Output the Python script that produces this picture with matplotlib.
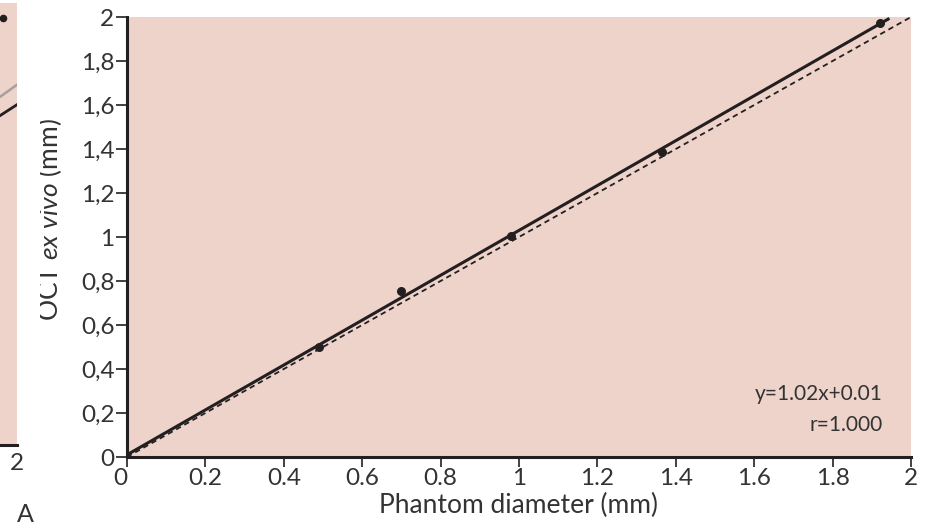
import matplotlib
matplotlib.use("Agg")
import matplotlib.pyplot as plt
import numpy as np
from matplotlib.patches import Rectangle

# ---- data ----
phantom = [0.49, 0.70, 0.98, 1.365, 1.92]
oct_exvivo = [0.50, 0.755, 1.005, 1.385, 1.975]
fit_slope, fit_icept = 1.02, 0.01
fit_x = [0.0, 1.945]
ident_x = [0.0, 2.0]
xticks = [0, 0.2, 0.4, 0.6, 0.8, 1, 1.2, 1.4, 1.6, 1.8, 2]
xticklabels = ["0", "0.2", "0.4", "0.6", "0.8", "1", "1.2", "1.4", "1.6", "1.8", "2"]
yticks = [0, 0.2, 0.4, 0.6, 0.8, 1, 1.2, 1.4, 1.6, 1.8, 2]
yticklabels = ["0", "0,2", "0,4", "0,6", "0,8", "1", "1,2", "1,4", "1,6", "1,8", "2"]
eq_text = "y=1.02x+0.01"
r_text = "r=1.000"

# partial neighbouring panel (only its right edge is visible)
left_x = [1.9, 2.0]
left_dark_y = [1.49, 1.54]
left_gray_y = [1.575, 1.63]
left_pt_x = [1.918]
left_pt_y = [1.93]

BG = "#edd3ca"
INK = "#231f20"
TXT = "#333333"

plt.rcParams['font.family'] = ['Lato', 'DejaVu Sans']
plt.rcParams['mathtext.fontset'] = 'custom'
plt.rcParams['mathtext.rm'] = 'Lato'
plt.rcParams['mathtext.it'] = 'Lato:italic'

W, H = 928, 527
fig = plt.figure(figsize=(W / 100, H / 100), dpi=100)

def fx(px):
    return px / W

def fy(py):
    return 1 - py / H

# main axes
ax = fig.add_axes([fx(127), fy(457), fx(911 - 127), (457 - 17) / H])
ax.set_facecolor(BG)
ax.set_xlim(0, 2)
ax.set_ylim(0, 2)
for s in ["top", "right"]:
    ax.spines[s].set_visible(False)
for s in ["left", "bottom"]:
    ax.spines[s].set_linewidth(2.2)
    ax.spines[s].set_color(INK)

xs = np.array(fit_x)
ax.plot(xs, fit_slope * xs + fit_icept, color=INK, lw=2.2, solid_capstyle="butt", zorder=3)
ax.plot(ident_x, ident_x, color=INK, lw=1.3, ls=(0, (3, 2.2)), zorder=2)
ax.scatter(phantom, oct_exvivo, s=30, color=INK, zorder=4)

ax.set_xticks(xticks)
ax.set_xticklabels(xticklabels)
ax.set_yticks(yticks)
ax.set_yticklabels(yticklabels)
ax.tick_params(axis="x", direction="out", length=7, width=1.2, color=INK,
               labelsize=17.5, labelcolor=TXT, pad=1)
ax.tick_params(axis="y", direction="out", length=8, width=1.2, color=INK,
               labelsize=17.5, labelcolor=TXT, pad=1)
ax.get_xticklabels()[0].set_horizontalalignment("right")

ax.set_xlabel("Phantom diameter (mm)", fontsize=19, color=TXT, labelpad=3)
ax.text(0.964, 0.143, eq_text, transform=ax.transAxes, ha="right", va="center",
        fontsize=15, color=TXT)
ax.text(0.964, 0.073, r_text, transform=ax.transAxes, ha="right", va="center",
        fontsize=15, color=TXT)

# y label (partly cut off at its top in the reference)
fig.text(fx(49), fy(220), r"OCT $ex\ vivo$ (mm)", rotation=90, ha="center",
         va="center", fontsize=19, color=TXT)
fig.patches.append(Rectangle((fx(17), fy(370)), fx(40) - fx(17), (370 - 60) / H,
                             transform=fig.transFigure, facecolor="white",
                             edgecolor="none", zorder=10))

# neighbouring panel sliver
axl = fig.add_axes([fx(-60), fy(445), fx(60 + 17), (445 - 3) / H])
axl.set_facecolor(BG)
axl.set_xlim(1.55, 2.0)
axl.set_ylim(0, 2)
for s in ["top", "right", "left"]:
    axl.spines[s].set_visible(False)
axl.spines["bottom"].set_linewidth(2.2)
axl.spines["bottom"].set_color(INK)
axl.plot(left_x, left_gray_y, color="#a89e9a", lw=1.8)
axl.plot(left_x, left_dark_y, color=INK, lw=2.0)
axl.scatter(left_pt_x, left_pt_y, s=20, color=INK)
axl.set_yticks([])
axl.set_xticks([2])
axl.set_xticklabels(["2"])
axl.tick_params(axis="x", length=0, labelsize=17.5, labelcolor=TXT, pad=6)
fig.text(fx(17), fy(515), "A", ha="left", va="center", fontsize=18, color=TXT)

fig.savefig("out.png", dpi=100, facecolor="white")
